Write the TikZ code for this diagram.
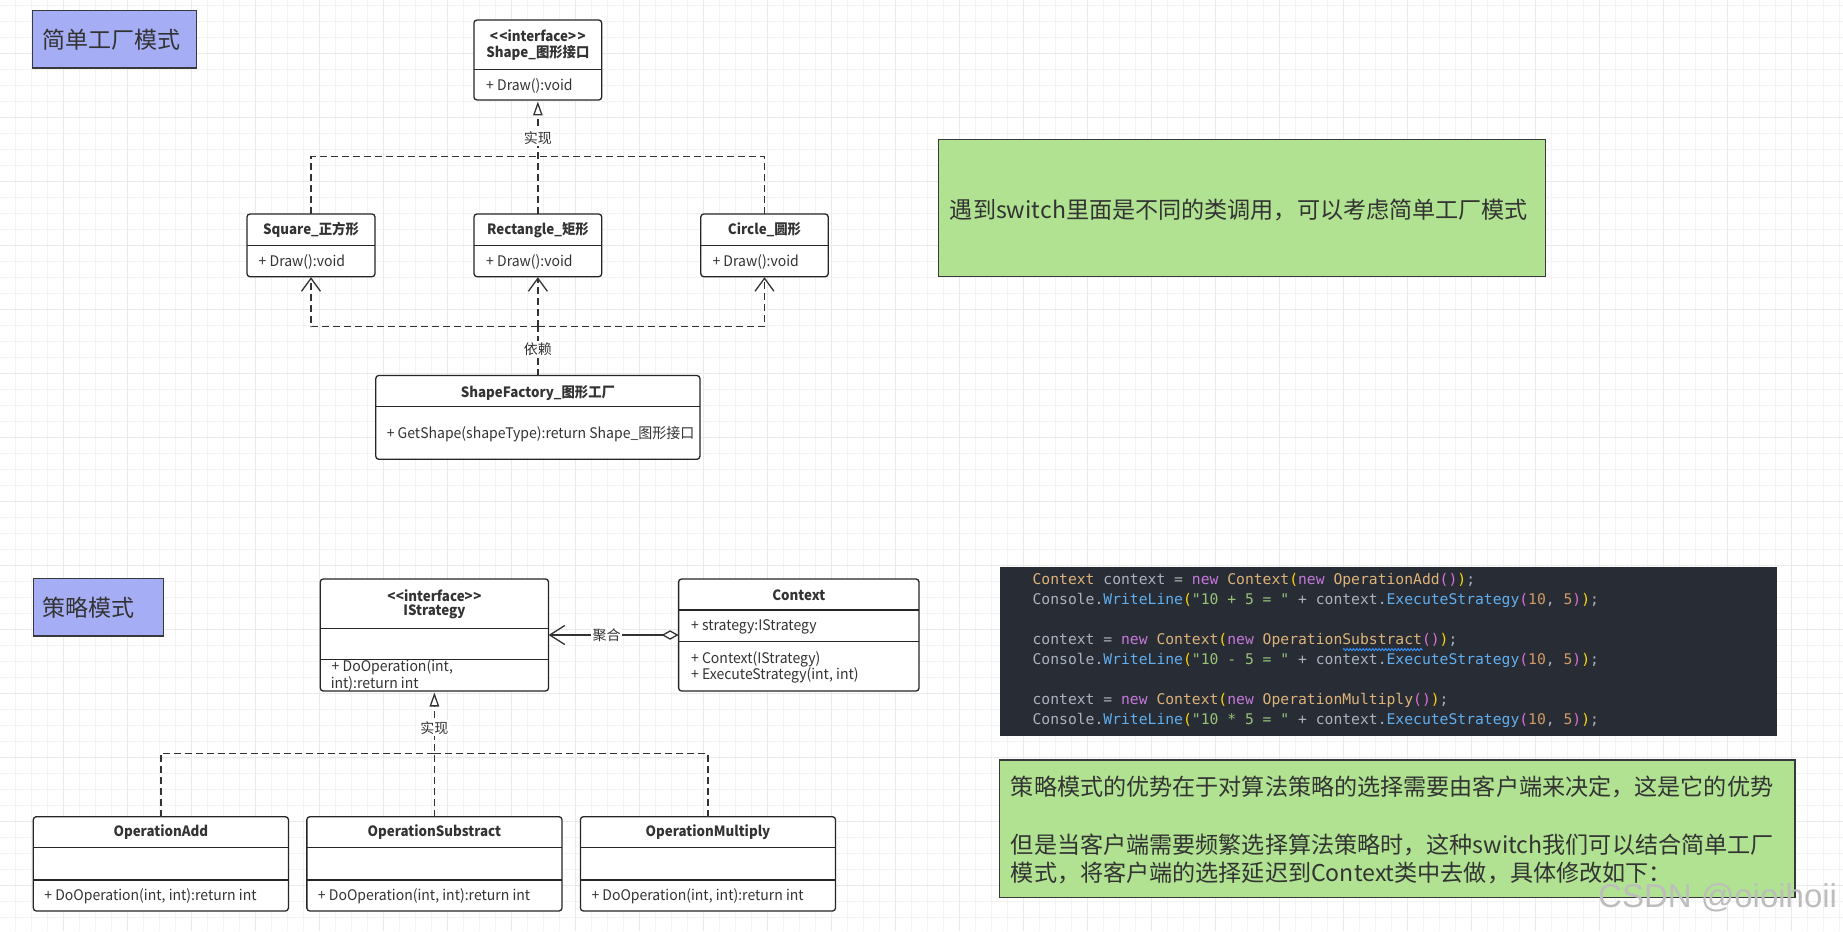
\documentclass[tikz,border=0pt]{standalone}
\usepackage{fontspec}
\setmainfont{Noto Sans CJK SC}
\newfontfamily\codefont{DejaVu Sans Mono}
\newfontfamily\wmfont{Liberation Sans}
\usetikzlibrary{arrows.meta,decorations.pathmorphing}
\definecolor{gminorc}{HTML}{F3F3F3}
\definecolor{gmajorc}{HTML}{EAEAEA}
\definecolor{ink}{HTML}{333333}
\definecolor{edgec}{HTML}{36393D}
\definecolor{titlefill}{HTML}{A5AEF5}
\definecolor{notefill}{HTML}{B0E291}
\definecolor{codebg}{HTML}{282C34}
\definecolor{cpl}{HTML}{ABB2BF}
\definecolor{ccls}{HTML}{DDB37A}
\definecolor{ckw}{HTML}{C678DD}
\definecolor{cfn}{HTML}{61AFEF}
\definecolor{cstr}{HTML}{98C379}
\definecolor{cnum}{HTML}{D19A66}
\definecolor{cbra}{HTML}{FFD700}
\definecolor{cbrb}{HTML}{DA70D6}
\definecolor{csquig}{HTML}{3794FF}
\definecolor{wmc}{HTML}{BDBDBD}
\tikzset{
  gminor/.style={draw=gminorc,line width=1},
  gmajor/.style={draw=gmajorc,line width=1},
  umlbox/.style={draw=black!85,fill=white,line width=1.3,rounded corners=3,inner sep=0,outer sep=0},
  sepline/.style={draw=black!85,line width=1.3},
  umltitle/.style={font=\fontsize{14.2}{17}\selectfont\bfseries,text=ink,inner sep=0,xscale=0.94},
  umlitem/.style={font=\fontsize{14.6}{17}\selectfont,text=ink,inner sep=0,anchor=west,xscale=0.96},
  titlebox/.style={draw=edgec,fill=titlefill,line width=1.3,inner sep=0},
  titletext/.style={font=\fontsize{23}{27}\selectfont,text=ink,inner sep=0,anchor=west},
  notebox/.style={draw=edgec,fill=notefill,line width=1.3,inner sep=0},
  notetext/.style={font=\fontsize{23.1}{28}\selectfont,text=ink,inner sep=0},
  codebox/.style={fill=codebg,draw=none,inner sep=0},
  codeline/.style={font=\codefont\fontsize{14.7}{18}\selectfont,text=cpl,inner sep=0,anchor=west},
  conn/.style={draw=ink,line width=1.3},
  dconn/.style={conn,dash pattern=on 7pt off 4pt},
  elabel/.style={font=\fontsize{14}{16}\selectfont,text=ink,fill=white,inner sep=1.5},
  realize/.style={-{Triangle[length=14,width=9.5,fill=white,line width=1.3]}},
  depend/.style={-{Straight Barb[length=13,width=19,line width=1.3]}},
}
\begin{document}
\begin{tikzpicture}[x=1pt,y=-1pt]
\useasboundingbox (0,0) rectangle (1843,931);
\fill[white] (0,0) rectangle (1843,931);
% grid
\foreach \k in {0,...,115} {\draw[gminor] ({16*\k-0.5},0) -- ({16*\k-0.5},931);}
\foreach \k in {0,...,57} {\draw[gminor] (0,{5.5+16*\k}) -- (1843,{5.5+16*\k});}
\foreach \k in {0,...,28} {\draw[gmajor] ({64*\k-0.5},0) -- ({64*\k-0.5},931);}
\foreach \k in {0,...,14} {\draw[gmajor] (0,{53.5+64*\k}) -- (1843,{53.5+64*\k});}

% ===== Simple factory =====
\node[titlebox,minimum width=164.3,minimum height=57.3] (t1) at (114.65,39.35) {};
\node[titletext] (t1txt) at (42.5,40) {简单工厂模式};

\node[umlbox,minimum width=127.7,minimum height=80] (shape) at (537.85,60) {};
\draw[sepline] (shape.west |- 0,69.3) -- (shape.east |- 0,69.3);
\node[umltitle] (shapeS) at (537.85,36) {<\kern1.5pt<interface>\kern1.5pt>};
\node[umltitle] (shapeN) at (537.85,53.3) {Shape\_图形接口};
\node[umlitem] (shapeM) at (486,86) {+ Draw():void};

\node[umlbox,minimum width=128,minimum height=62.7] (sq) at (311,245.35) {};
\draw[sepline] (sq.west |- 0,245.7) -- (sq.east |- 0,245.7);
\node[umltitle] (sqN) at (311,230) {Square\_正方形};
\node[umlitem] (sqM) at (258.5,262.3) {+ Draw():void};

\node[umlbox,minimum width=127.7,minimum height=62.7] (re) at (537.85,245.35) {};
\draw[sepline] (re.west |- 0,245.7) -- (re.east |- 0,245.7);
\node[umltitle] (reN) at (537.85,230) {Rectangle\_矩形};
\node[umlitem] (reM) at (486,262.3) {+ Draw():void};

\node[umlbox,minimum width=127.4,minimum height=62.7] (ci) at (764.5,245.35) {};
\draw[sepline] (ci.west |- 0,245.7) -- (ci.east |- 0,245.7);
\node[umltitle] (ciN) at (764.5,230) {Circle\_圆形};
\node[umlitem] (ciM) at (712.3,262.3) {+ Draw():void};

\node[umlbox,minimum width=324.1,minimum height=83.8] (sf) at (537.85,417.4) {};
\draw[sepline] (sf.west |- 0,406.7) -- (sf.east |- 0,406.7);
\node[umltitle] (sfN) at (537.85,392.7) {ShapeFactory\_图形工厂};
\node[umlitem] (sfM) at (386.6,434) {+ GetShape(shapeType):return Shape\_图形接口};

% realization (top)
\coordinate (jt) at (537.85,156.7);
\draw[dconn] (sq.north) |- (jt);
\draw[dconn] (ci.north) |- (jt);
\draw[dconn,realize,shorten >=1.5] (re.north) -- (shape.south);
\node[elabel] (lblA) at (537.85,138.3) {实现};

% dependency
\coordinate (jd) at (537.85,326.7);
\draw[dconn] (sf.north) -- (jd);
\draw[dconn,depend,shorten >=0.5] (jd) -- (re.south);
\draw[dconn,depend,shorten >=0.5] (jd) -| (sq.south);
\draw[dconn,depend,shorten >=0.5] (jd) -| (ci.south);
\node[elabel] (lblB) at (537.85,349.3) {依赖};

\node[notebox,minimum width=606.6,minimum height=137.4] (note1) at (1242,208) {};
\node[notetext] (note1txt) at (1239,210) {遇到switch里面是不同的类调用，可以考虑简单工厂模式};

% ===== Strategy =====
\node[titlebox,minimum width=130.3,minimum height=57.7] (t2) at (98.45,607.15) {};
\node[titletext] (t2txt) at (42.4,608) {策略模式};

\node[umlbox,minimum width=228.3,minimum height=112] (ist) at (434.4,635) {};
\draw[sepline] (ist.west |- 0,628.3) -- (ist.east |- 0,628.3);
\draw[sepline] (ist.west |- 0,659.3) -- (ist.east |- 0,659.3);
\node[umltitle] (istS) at (434.4,596) {<\kern0.5pt<interface>\kern0.5pt>};
\node[umltitle] (istN) at (434.4,611.7) {IStrategy};
\node[umlitem] (istM1) at (331.5,667.3) {+ DoOperation(int,};
\node[umlitem] (istM2) at (330.6,684) {int):return int};

\node[umlbox,minimum width=240.4,minimum height=112] (ctx) at (798.8,635) {};
\draw[sepline] (ctx.west |- 0,610) -- (ctx.east |- 0,610);
\draw[sepline] (ctx.west |- 0,641.7) -- (ctx.east |- 0,641.7);
\node[umltitle] (ctxN) at (798.8,595) {Context};
\node[umlitem] (ctxA) at (690.9,626.7) {+ strategy:IStrategy};
\node[umlitem] (ctxM1) at (690.9,659) {+ Context(IStrategy)};
\node[umlitem] (ctxM2) at (690.9,675.5) {+ ExecuteStrategy(int, int)};

\draw[conn,{Straight Barb[length=15,width=19,line width=1.3]}-{Diamond[length=17,width=9.5,fill=white,line width=1.3]}] (ist.east) -- (ctx.west);
\node[elabel] (lblC) at (606.5,635) {聚合};

\node[umlbox,minimum width=255.1,minimum height=94.3] (add) at (160.85,863.85) {};
\draw[sepline] (add.west |- 0,847.7) -- (add.east |- 0,847.7);
\draw[sepline] (add.west |- 0,880) -- (add.east |- 0,880);
\node[umltitle] (addN) at (160.85,832.5) {OperationAdd};
\node[umlitem] (addM) at (44.2,896) {+ DoOperation(int, int):return int};

\node[umlbox,minimum width=255.1,minimum height=94.3] (sub) at (434.4,863.85) {};
\draw[sepline] (sub.west |- 0,847.7) -- (sub.east |- 0,847.7);
\draw[sepline] (sub.west |- 0,880) -- (sub.east |- 0,880);
\node[umltitle] (subN) at (434.4,832.5) {OperationSubstract};
\node[umlitem] (subM) at (317.8,896) {+ DoOperation(int, int):return int};

\node[umlbox,minimum width=255.1,minimum height=94.3] (mul) at (707.95,863.85) {};
\draw[sepline] (mul.west |- 0,847.7) -- (mul.east |- 0,847.7);
\draw[sepline] (mul.west |- 0,880) -- (mul.east |- 0,880);
\node[umltitle] (mulN) at (707.95,832.5) {OperationMultiply};
\node[umlitem] (mulM) at (591.3,896) {+ DoOperation(int, int):return int};

% realization (bottom)
\coordinate (jb) at (434.4,753.3);
\draw[dconn] (add.north) |- (jb);
\draw[dconn] (mul.north) |- (jb);
\draw[dconn,realize,shorten >=1.5] (sub.north) -- (ist.south);
\node[elabel] (lblD) at (434.4,728.3) {实现};

% code
\node[codebox,minimum width=777.2,minimum height=169] (code) at (1388.4,651.2) {};
\node[codeline] (c1) at (1032.4,580.7) {\textcolor{ccls}{Context} context = \textcolor{ckw}{new} \textcolor{ccls}{Context}\textcolor{cbra}{(}\textcolor{ckw}{new} \textcolor{ccls}{OperationAdd}\textcolor{cbrb}{()}\textcolor{cbra}{)};};
\node[codeline] (c2) at (1032.4,600.7) {Console.\textcolor{cfn}{WriteLine}\textcolor{cbra}{(}\textcolor{cstr}{"10 + 5 = "} + context.\textcolor{cfn}{ExecuteStrategy}\textcolor{cbrb}{(}\textcolor{cnum}{10}, \textcolor{cnum}{5}\textcolor{cbrb}{)}\textcolor{cbra}{)};};
\node[codeline] (c3) at (1032.4,640.7) {context = \textcolor{ckw}{new} \textcolor{ccls}{Context}\textcolor{cbra}{(}\textcolor{ckw}{new} \textcolor{ccls}{OperationSubstract}\textcolor{cbrb}{()}\textcolor{cbra}{)};};
\node[codeline] (c4) at (1032.4,660.4) {Console.\textcolor{cfn}{WriteLine}\textcolor{cbra}{(}\textcolor{cstr}{"10 - 5 = "} + context.\textcolor{cfn}{ExecuteStrategy}\textcolor{cbrb}{(}\textcolor{cnum}{10}, \textcolor{cnum}{5}\textcolor{cbrb}{)}\textcolor{cbra}{)};};
\node[codeline] (c5) at (1032.4,700.4) {context = \textcolor{ckw}{new} \textcolor{ccls}{Context}\textcolor{cbra}{(}\textcolor{ckw}{new} \textcolor{ccls}{OperationMultiply}\textcolor{cbrb}{()}\textcolor{cbra}{)};};
\node[codeline] (c6) at (1032.4,720.7) {Console.\textcolor{cfn}{WriteLine}\textcolor{cbra}{(}\textcolor{cstr}{"10 * 5 = "} + context.\textcolor{cfn}{ExecuteStrategy}\textcolor{cbrb}{(}\textcolor{cnum}{10}, \textcolor{cnum}{5}\textcolor{cbrb}{)}\textcolor{cbra}{)};};
\draw[csquig,line width=0.9,decorate,decoration={snake,segment length=3.2,amplitude=1.1}] (1342.9,649.6) -- (1422.5,649.6);

% note 2
\node[notebox,minimum width=795.8,minimum height=137.3] (note2) at (1397.1,828.65) {};
\node[notetext,anchor=west] (n2a) at (1010.7,786.7) {策略模式的优势在于对算法策略的选择需要由客户端来决定，这是它的优势};
\node[notetext,anchor=west] (n2b) at (1010.7,845) {但是当客户端需要频繁选择算法策略时，这种switch我们可以结合简单工厂};
\node[notetext,anchor=west] (n2c) at (1010.7,873.3) {模式，将客户端的选择延迟到Context类中去做，具体修改如下：};

% watermark
\node[font=\wmfont\fontsize{33}{36}\selectfont,text=wmc,inner sep=0,anchor=west] (wm) at (1598,897.5) {CSDN @oioihoii};
\end{tikzpicture}
\end{document}
